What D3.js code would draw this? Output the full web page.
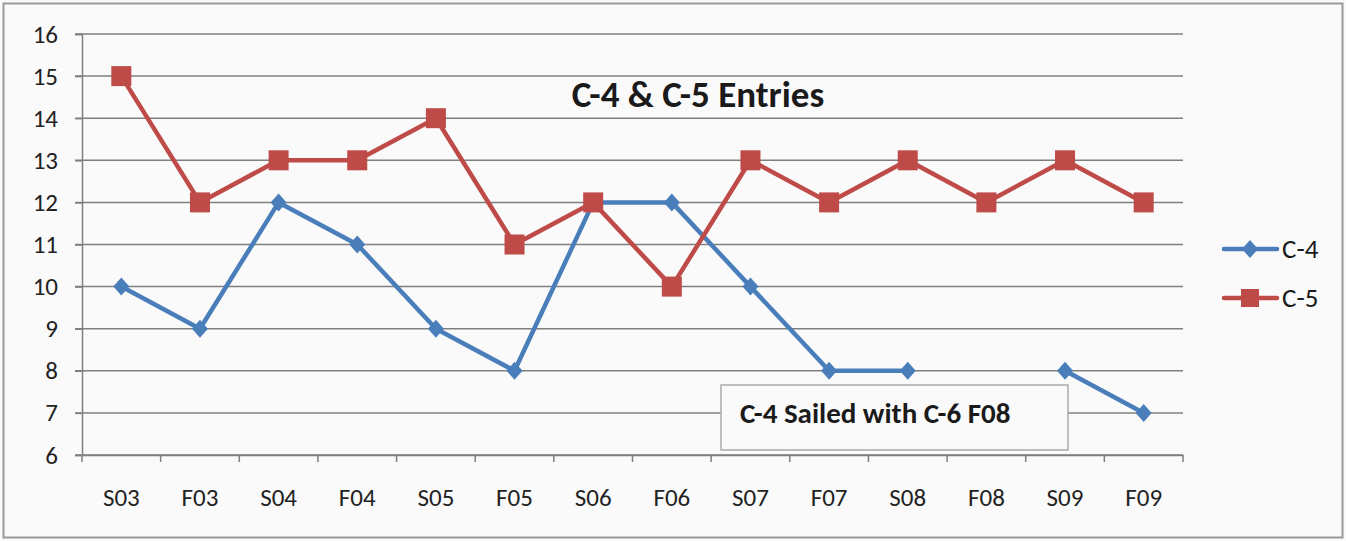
<!DOCTYPE html>
<html><head><meta charset="utf-8">
<script src="https://cdn.jsdelivr.net/npm/d3@7"></script>
<style>body{margin:0;background:#fff;}svg{display:block;}</style>
</head><body>
<svg id="c" width="1346" height="541"></svg>
<script>
const categories = ["S03","F03","S04","F04","S05","F05","S06","F06","S07","F07","S08","F08","S09","F09"];
const c4 = [10,9,12,11,9,8,12,12,10,8,8,null,8,7];
const c5 = [15,12,13,13,14,11,12,10,13,12,13,12,13,12];
const yTicks = [6,7,8,9,10,11,12,13,14,15,16];
const seriesNames = ["C-4","C-5"];
const colors = ["#4a7ebb","#be4b48"];
const title = "C-4 & C-5 Entries";
const note = "C-4 Sailed with C-6 F08";

const svg = d3.select("#c");
const font = "Carlito, 'Open Sans', 'Liberation Sans', sans-serif";
svg.append("rect").attr("x",0).attr("y",0).attr("width",1346).attr("height",541).attr("fill","#fbfafb");
svg.append("rect").attr("x",3.5).attr("y",3.5).attr("width",1339).attr("height",534).attr("fill","none").attr("stroke","#9a9a9a").attr("stroke-width",2);

const L=82,R=1183,T=34,B=455;
const x = d3.scaleBand().domain(categories).range([L,R]);
const y = d3.scaleLinear().domain([6,16]).range([B,T]);

// gridlines
svg.append("g").selectAll("line").data(yTicks).join("line")
 .attr("x1",L-7).attr("x2",R).attr("y1",d=>y(d)).attr("y2",d=>y(d))
 .attr("stroke","#7f7f7f").attr("stroke-width",1.5);

// y axis
const ya = svg.append("g").attr("transform",`translate(${L},0)`).call(d3.axisLeft(y).tickValues(yTicks).tickSize(7).tickPadding(17));
ya.select(".domain").attr("stroke","#7f7f7f").attr("stroke-width",1.5);
ya.selectAll(".tick line").attr("stroke","#7f7f7f").attr("stroke-width",1.5);
ya.selectAll("text").attr("font-family",font).attr("font-size",25).attr("fill","#222");

// x axis
const xa = svg.append("g").attr("transform",`translate(0,${B})`).call(d3.axisBottom(x).tickSize(0).tickPadding(33));
xa.select(".domain").attr("stroke","#7f7f7f").attr("stroke-width",1.5);
xa.selectAll("text").attr("font-family",font).attr("font-size",25).attr("fill","#222");
xa.append("g").selectAll("line").data(categories.concat(["_end"])).join("line")
 .attr("x1",(d,i)=>L+i*x.bandwidth()).attr("x2",(d,i)=>L+i*x.bandwidth())
 .attr("y1",0).attr("y2",7).attr("stroke","#7f7f7f").attr("stroke-width",1.5);

const cx = d=>x(d)+x.bandwidth()/2;
const line = d3.line().defined(d=>d.v!=null).x(d=>cx(d.c)).y(d=>y(d.v));
const data = [c4,c5].map(arr=>categories.map((c,i)=>({c,v:arr[i]})));
const diamond = "M0,-9L8,0L0,9L-8,0Z";

[0,1].forEach(s=>{
  svg.append("path").datum(data[s]).attr("d",line).attr("fill","none")
   .attr("stroke",colors[s]).attr("stroke-width",4.5).attr("stroke-linejoin","round");
});
svg.append("g").selectAll("path").data(data[0].filter(d=>d.v!=null)).join("path")
 .attr("d",diamond).attr("transform",d=>`translate(${cx(d.c)},${y(d.v)})`).attr("fill",colors[0]);
svg.append("g").selectAll("rect").data(data[1]).join("rect")
 .attr("x",d=>cx(d.c)-10).attr("y",d=>y(d.v)-10).attr("width",20).attr("height",20).attr("fill",colors[1]);

// title
svg.append("text").attr("x",698).attr("y",107).attr("text-anchor","middle")
 .attr("font-family",font).attr("font-weight","bold").attr("font-size",37).attr("fill","#1a1a1a").text(title);

// annotation
svg.append("rect").attr("x",721).attr("y",385).attr("width",347).attr("height",65)
 .attr("fill","#fbfafb").attr("stroke","#aaaaaa").attr("stroke-width",1.5);
svg.append("text").attr("x",740).attr("y",423).attr("font-family",font).attr("font-weight","bold")
 .attr("font-size",29).attr("fill","#1a1a1a").text(note);

// legend
const lg = svg.append("g");
[0,1].forEach(s=>{
  const ly = 249 + s*49;
  lg.append("line").attr("x1",1224).attr("x2",1277).attr("y1",ly).attr("y2",ly).attr("stroke",colors[s]).attr("stroke-width",4.5).attr("stroke-linecap","round");
  if(s===0) lg.append("path").attr("d",diamond).attr("transform",`translate(1250,${ly})`).attr("fill",colors[s]);
  else lg.append("rect").attr("x",1241).attr("y",ly-9).attr("width",18).attr("height",18).attr("fill",colors[s]);
  lg.append("text").attr("x",1282).attr("y",ly+9).attr("font-family",font).attr("font-size",27).attr("fill","#1a1a1a").text(seriesNames[s]);
});
</script>
</body></html>
